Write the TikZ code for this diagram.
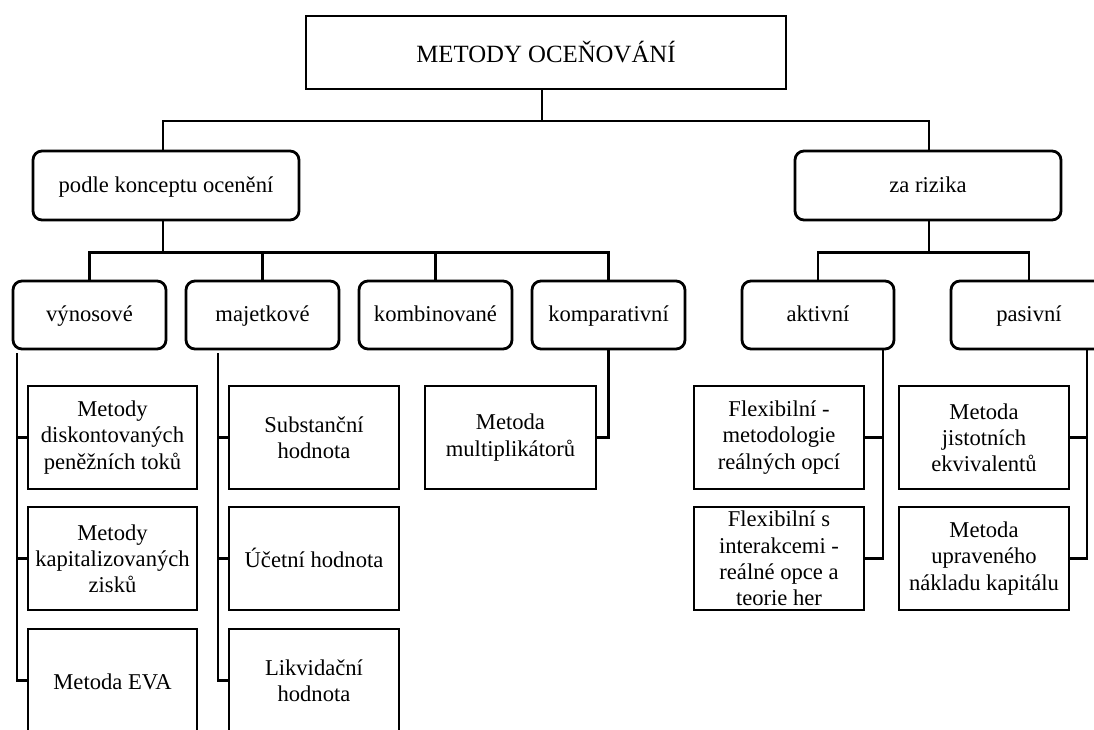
\documentclass[tikz,border=0pt]{standalone}
\usepackage{fontspec}
\setmainfont{Liberation Serif}
\begin{document}
\begin{tikzpicture}[x=1pt,y=-1pt,line width=2.8pt,
  box/.style={draw, inner sep=0pt, align=center, font=\fontsize{22.6pt}{26.2pt}\selectfont},
  oneline/.style={text height=17pt, text depth=4pt},
  onelinelow/.style={text height=21pt, text depth=4pt},
  rbox/.style={box, oneline, rounded corners=9pt},
  headbox/.style={box, text height=23pt, text depth=4pt, font=\fontsize{24.8pt}{29pt}\selectfont}]
\useasboundingbox (0,0) rectangle (1094,729);
\fill[white] (0,0) rectangle (1094,729);
\clip (0,0) rectangle (1094,729);

% level 0
\node[headbox, minimum width=480pt, minimum height=73pt] (top) at (546,52.5) {METODY OCEŇOVÁNÍ};
% level 1
\node[rbox, minimum width=266pt, minimum height=69pt] (podle) at (166,185.5) {podle konceptu ocenění};
\node[rbox, minimum width=266pt, minimum height=69pt] (za) at (928,185.5) {za rizika};
% level 2
\node[rbox, minimum width=153pt, minimum height=68pt] (vyn) at (89.5,315) {výnosové};
\node[rbox, minimum width=153pt, minimum height=68pt] (maj) at (262.5,315) {majetkové};
\node[rbox, minimum width=153pt, minimum height=68pt] (komb) at (435.5,315) {kombinované};
\node[rbox, minimum width=153pt, minimum height=68pt] (komp) at (608.5,315) {komparativní};
\node[rbox, minimum width=152pt, minimum height=68pt] (akt) at (818,315) {aktivní};
\node[rbox, minimum width=156pt, minimum height=68pt] (pas) at (1029,315) {pasivní};
% level 3
\node[box, minimum width=169pt, minimum height=103pt] (d1) at (112.5,437.5) {Metody\\diskontovaných\\peněžních toků};
\node[box, minimum width=169pt, minimum height=103pt] (d2) at (112.5,558.5) {Metody\\kapitalizovaných\\zisků};
\node[box, onelinelow, minimum width=169pt, minimum height=103pt] (d3) at (112.5,680.5) {Metoda EVA};
\node[box, minimum width=170pt, minimum height=103pt] (s1) at (314,437.5) {Substanční\\hodnota};
\node[box, onelinelow, minimum width=170pt, minimum height=103pt] (s2) at (314,558.5) {Účetní hodnota};
\node[box, minimum width=170pt, minimum height=103pt] (s3) at (314,680.5) {Likvidační\\hodnota};
\node[box, minimum width=171pt, minimum height=103pt] (m1) at (510.5,437.5) {Metoda\\multiplikátorů};
\node[box, minimum width=170pt, minimum height=103pt] (f1) at (779,437.5) {Flexibilní -\\metodologie\\reálných opcí};
\node[box, minimum width=170pt, minimum height=103pt] (f2) at (779,558.5) {Flexibilní s\\interakcemi -\\reálné opce a\\teorie her};
\node[box, minimum width=170pt, minimum height=103pt] (j1) at (984,437.5) {Metoda\\jistotních\\ekvivalentů};
\node[box, minimum width=170pt, minimum height=103pt] (j2) at (984,558.5) {Metoda\\upraveného\\nákladu kapitálu};

% bus coordinates
\coordinate (bus0) at (0,121);
\coordinate (bus1) at (0,252.5);
\coordinate (vx) at (17,0);
\coordinate (mx) at (218,0);
\coordinate (ax) at (883,0);
\coordinate (px) at (1087,0);

% level 0 -> 1
\draw ([xshift=-4pt]top.south) -- ([xshift=-4pt]top.south |- bus0);
\draw ([xshift=-3pt]podle.north) -- ([xshift=-3pt]podle.north |- bus0) -- ([xshift=1pt]za.north |- bus0) -- ([xshift=1pt]za.north);
% level 1 -> 2
\draw ([xshift=-3pt]podle.south) -- ([xshift=-3pt]podle.south |- bus1);
\draw (vyn.north) -- (vyn.north |- bus1) -- (komp.north |- bus1) -- (komp.north);
\draw (maj.north) -- (maj.north |- bus1);
\draw (komb.north) -- (komb.north |- bus1);
\draw ([xshift=1pt]za.south) -- ([xshift=1pt]za.south |- bus1);
\draw (akt.north) -- (akt.north |- bus1) -- (pas.north |- bus1) -- (pas.north);
% level 2 -> 3
\draw ([yshift=-3pt]vyn.south -| vx) |- (d1.west);
\draw ([yshift=-3pt]vyn.south -| vx) |- (d2.west);
\draw ([yshift=-3pt]vyn.south -| vx) |- (d3.west);
\draw ([yshift=-3pt]maj.south -| mx) |- (s1.west);
\draw ([yshift=-3pt]maj.south -| mx) |- (s2.west);
\draw ([yshift=-3pt]maj.south -| mx) |- (s3.west);
\draw (komp.south) |- (m1.east);
\draw (akt.south -| ax) |- (f1.east);
\draw (akt.south -| ax) |- (f2.east);
\draw (pas.south -| px) |- (j1.east);
\draw (pas.south -| px) |- (j2.east);
\end{tikzpicture}
\end{document}
